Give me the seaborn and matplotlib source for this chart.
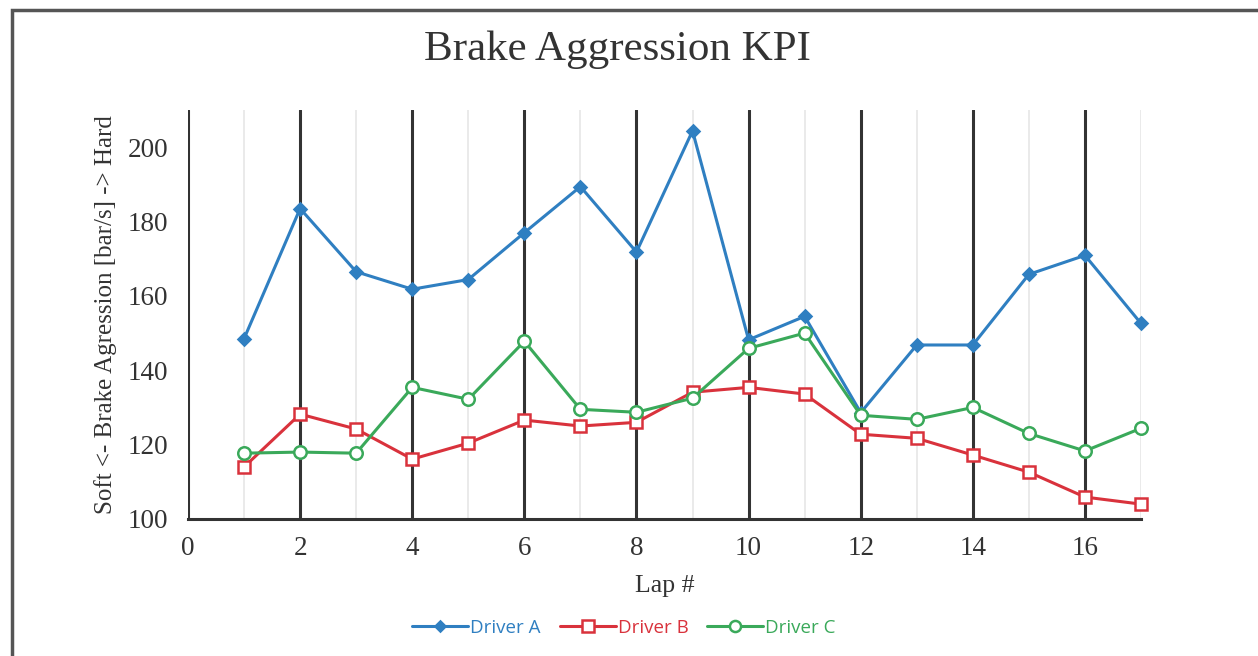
import numpy as np
import pandas as pd
import matplotlib
matplotlib.use("Agg")
import matplotlib.pyplot as plt
from matplotlib.lines import Line2D
from matplotlib.patches import Rectangle
from matplotlib.ticker import MultipleLocator
import seaborn as sns

# Brake aggression per lap for each driver
laps = list(range(1, 18))
driver_a = [148.5, 183.5, 166.5, 161.8, 164.4, 177.0, 189.4, 171.8, 204.4, 148.2,
            154.5, 128.6, 146.8, 146.8, 165.8, 170.9, 152.6]
driver_b = [114.0, 128.2, 124.2, 116.1, 120.4, 126.6, 125.0, 126.0, 134.1, 135.4,
            133.6, 122.8, 121.7, 117.2, 112.6, 105.9, 104.0]
driver_c = [117.7, 118.0, 117.7, 135.4, 132.2, 147.8, 129.5, 128.7, 132.5, 145.9,
            150.0, 127.9, 126.8, 130.0, 123.0, 118.3, 124.4]
driver_names = ["Driver A", "Driver B", "Driver C"]
y_ticks = [100, 120, 140, 160, 180, 200]
x_ticks = [0, 2, 4, 6, 8, 10, 12, 14, 16]

colors = {"Driver A": "#2f7fc1", "Driver B": "#d9323c", "Driver C": "#3aa95a"}
markers = {"Driver A": "D", "Driver B": "s", "Driver C": "o"}

df = pd.DataFrame({
    "Lap": laps * 3,
    "Value": driver_a + driver_b + driver_c,
    "Driver": [d for d in driver_names for _ in laps],
})

sns.set_style("white")
plt.rcParams["font.family"] = ["Liberation Serif", "DejaVu Serif"]

fig = plt.figure(figsize=(12.58, 6.56), dpi=100)
ax = fig.add_axes([188 / 1258, 1 - 519 / 656, (1141 - 188) / 1258, (519 - 110) / 656])

for name in driver_names:
    sub = df[df["Driver"] == name]
    filled = name == "Driver A"
    sns.lineplot(
        data=sub, x="Lap", y="Value", ax=ax, color=colors[name], lw=2.2,
        marker=markers[name], markersize=6 if filled else 9,
        markerfacecolor=colors[name] if filled else "white",
        markeredgecolor=colors[name], markeredgewidth=1.8,
        legend=False, zorder=3, clip_on=False,
    )

ax.set_xlim(0, 17)
ax.set_ylim(100, 210)
ax.set_xticks(x_ticks)
ax.xaxis.set_minor_locator(MultipleLocator(1))
ax.set_yticks(y_ticks)

# vertical grid: dark at even laps, faint at odd laps
ax.grid(False)
for x in range(0, 18):
    if x % 2 == 0:
        ax.axvline(x, color="#333333", lw=2.2, zorder=1)
    else:
        ax.axvline(x, color="#e6e6e6", lw=1.2, zorder=1)

for s in ["top", "right", "left"]:
    ax.spines[s].set_visible(False)
ax.spines["bottom"].set_color("#333333")
ax.spines["bottom"].set_linewidth(2.2)

ax.tick_params(axis="x", which="both", direction="inout", length=12, width=2,
               color="#333333", labelsize=19.5, labelcolor="#333333", pad=6)
ax.tick_params(axis="y", which="both", length=0, labelsize=19.5, labelcolor="#333333", pad=14)

ax.set_xlabel("Lap #", fontsize=18.5, color="#333333", labelpad=10)
ax.set_ylabel("Soft <- Brake Agression [bar/s] -> Hard", fontsize=18, color="#333333", labelpad=8)

fig.text(617 / 1258, 1 - 50 / 656, "Brake Aggression KPI", ha="center", va="center",
         fontsize=31, color="#333333")

handles = [
    Line2D([], [], color=colors[n], lw=2.2, marker=markers[n],
           markersize=5 if n == "Driver A" else 8,
           markerfacecolor=colors[n] if n == "Driver A" else "white",
           markeredgecolor=colors[n], markeredgewidth=1.8)
    for n in driver_names
]
leg = fig.legend(handles, driver_names, loc="center", bbox_to_anchor=(624 / 1258, 1 - 628 / 656),
                 ncol=3, frameon=False, handlelength=3.0, handletextpad=0.1, columnspacing=1.0,
                 prop={"family": "Open Sans", "size": 13.5})
for txt, n in zip(leg.get_texts(), driver_names):
    txt.set_color(colors[n])

# outer frame
fig.add_artist(Rectangle((12 / 1258, -0.02), 1.1, 1 - 10 / 656 + 0.02, transform=fig.transFigure,
                         fill=False, edgecolor="#555555", lw=2.5))

fig.savefig("out.png", dpi=100)
